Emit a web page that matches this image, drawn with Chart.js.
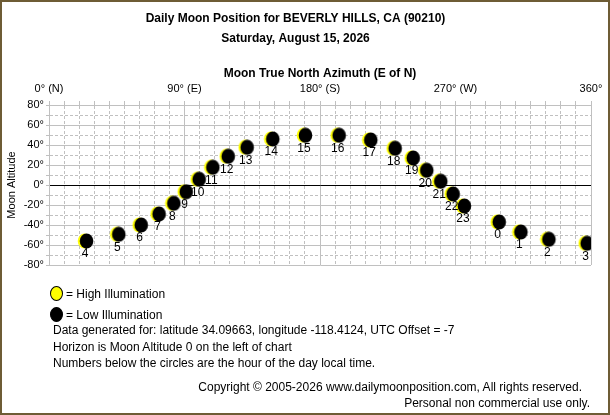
<!DOCTYPE html>
<html>
<head>
<meta charset="utf-8">
<script src="https://cdn.jsdelivr.net/npm/chart.js@4/dist/chart.umd.min.js"></script>
<style>
  body { margin: 0; background: #fff; font-family: "Liberation Sans", Arial, sans-serif; }
  #wrap { position: absolute; left: 0; top: 0; width: 610px; height: 415px; }
  #frame { position: absolute; left: 0; top: 0; width: 610px; height: 415px; box-sizing: border-box; border: 2px solid #6e5c35; pointer-events: none; }
  canvas { position: absolute; left: 0; top: 0; }
  .txt { position: absolute; font-size: 12px; color: #000; white-space: nowrap; line-height: 14px; }
  .dot { position: absolute; width: 13px; height: 15px; border-radius: 50%; box-sizing: border-box; border: 1px solid #000; }
</style>
</head>
<body>
<div id="wrap">
  <canvas id="moonChart" width="610" height="415"></canvas>
  <div class="dot" style="left:50px;top:286px;background:#ffff00"></div>
  <div class="txt" style="left:66px;top:287px">= High Illumination</div>
  <div class="dot" style="left:50px;top:307px;background:#000"></div>
  <div class="txt" style="left:66px;top:308px">= Low Illumination</div>
  <div class="txt" style="left:53px;top:323px">Data generated for: latitude 34.09663, longitude -118.4124, UTC Offset = -7</div>
  <div class="txt" style="left:53px;top:340px">Horizon is Moon Altitude 0 on the left of chart</div>
  <div class="txt" style="left:53px;top:356px">Numbers below the circles are the hour of the day local time.</div>
  <div class="txt" style="right:28px;top:380px">Copyright &copy; 2005-2026 www.dailymoonposition.com, All rights reserved.</div>
  <div class="txt" style="right:20px;top:396px">Personal non commercial use only.</div>
  <div id="frame"></div>
</div>
<script>
// moon position per hour
const hours = [4, 5, 6, 7, 8, 9, 10, 11, 12, 13, 14, 15, 16, 17, 18, 19, 20, 21, 22, 23, 0, 1, 2, 3]
const azimuth = [24.6, 46.0, 60.9, 72.8, 82.6, 90.8, 99.4, 108.5, 118.7, 131.3, 148.3, 170.0,
                 192.4, 213.4, 229.6, 241.6, 250.6, 259.9, 268.1, 275.6, 298.7, 313.1, 331.7, 357.1]
const altitude = [-56, -49.3, -40, -29, -18.3, -6.7, 5.7, 17.7, 28.7, 37.7, 46, 49.7,
                  49.7, 45, 36.7, 27, 14.7, 3.7, -9, -21, -37, -47, -54.3, -58.3]
const azLabels = { 0: '0° (N)', 90: '90° (E)', 180: '180° (S)', 270: '270° (W)', 360: '360°' }

const FONT = '"Liberation Sans", Arial, sans-serif'
const GRID = '#c0c0c0'

// moon glyph: black disc with a thin yellow crescent on the left
function moonIcon() {
    const c = document.createElement('canvas')
    c.width = 18; c.height = 16
    const g = c.getContext('2d')
    g.fillStyle = '#ffff00'
    g.beginPath(); g.ellipse(7.5, 8, 6.8, 7.6, 0, 0, Math.PI * 2); g.fill()
    g.fillStyle = '#000'
    g.beginPath(); g.ellipse(9.5, 8, 6.8, 7.6, 0, 0, Math.PI * 2); g.fill()
    return c
}

const hourLabels = {
    id: 'hourLabels',
    afterDatasetsDraw(chart) {
        const ctx = chart.ctx
        const meta = chart.getDatasetMeta(0)
        ctx.save()
        ctx.font = '12px ' + FONT
        ctx.fillStyle = '#000'
        ctx.textAlign = 'center'
        ctx.textBaseline = 'middle'
        meta.data.forEach((p, i) => {
            ctx.fillText(String(hours[i]), p.x - 1, p.y + 13)
        })
        ctx.restore()
    }
}

var ctx = document.getElementById('moonChart')
var myChart = new Chart(ctx, {
    type: 'scatter',
    data: {
        datasets: [{
            label: 'Moon',
            data: azimuth.map((a, i) => ({ x: a, y: altitude[i] })),
            pointStyle: moonIcon(),
            pointRadius: 8
        }]
    },
    plugins: [hourLabels],
    options: {
        responsive: false,
        animation: false,
        layout: { padding: { left: 0, right: 19, top: 0, bottom: 150 } },
        plugins: {
            legend: { display: false },
            tooltip: { enabled: false },
            title: {
                display: true,
                text: ['Daily Moon Position for BEVERLY HILLS, CA (90210)', 'Saturday, August 15, 2026'],
                color: '#000',
                font: { family: FONT, size: 12, weight: 'bold', lineHeight: 20 / 12 },
                padding: { top: 9, bottom: 0 }
            }
        },
        scales: {
            x: {
                type: 'linear',
                position: 'top',
                min: 0,
                max: 360,
                afterFit: s => { s.height = 56 },
                title: {
                    display: true,
                    text: 'Moon True North Azimuth (E of N)',
                    color: '#000',
                    font: { family: FONT, size: 12, weight: 'bold' },
                    padding: { top: 17, bottom: 0 }
                },
                ticks: {
                    stepSize: 10,
                    autoSkip: false,
                    maxRotation: 0,
                    padding: 5,
                    color: '#000',
                    font: { family: FONT, size: 11 },
                    callback: v => azLabels[v] || ''
                },
                grid: {
                    color: GRID,
                    tickLength: 4,
                    tickColor: GRID
                },
                border: {
                    color: GRID,
                    dash: c => (c.tick && c.tick.value % 90 === 0) ? [] : [3, 2]
                }
            },
            y: {
                min: -80,
                max: 80,
                afterFit: s => { s.width = 49 },
                title: {
                    display: true,
                    text: 'Moon Altitude',
                    color: '#000',
                    font: { family: FONT, size: 11 },
                    padding: { top: 5, bottom: 0 }
                },
                ticks: {
                    stepSize: 10,
                    autoSkip: false,
                    padding: 2,
                    color: '#000',
                    font: { family: FONT, size: 11 },
                    callback: v => (v % 20 === 0) ? v + '°' : ''
                },
                grid: {
                    color: c => (c.tick && c.tick.value === 0) ? '#000' : GRID,
                    tickLength: 3,
                    tickColor: GRID
                },
                border: {
                    color: GRID,
                    dash: c => (c.tick && c.tick.value % 20 === 0) ? [] : [3, 2]
                }
            }
        }
    }
})
</script>
</body>
</html>
